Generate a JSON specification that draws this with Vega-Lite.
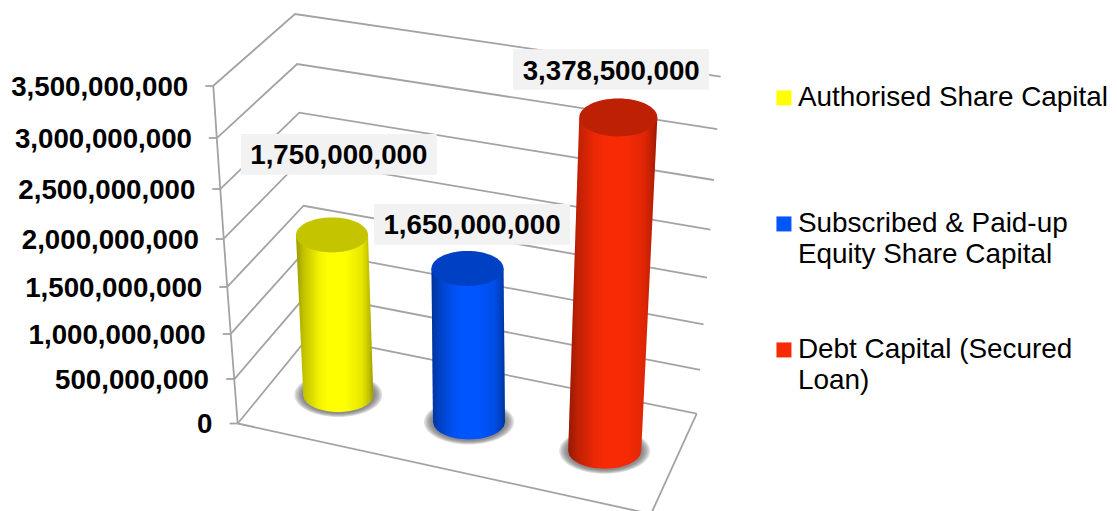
{
  "$schema": "https://vega.github.io/schema/vega-lite/v6.json",
  "width": 1117,
  "height": 511,
  "padding": 0,
  "autosize": "none",
  "background": "white",
  "config": {"view": {"stroke": null}, "font": "Liberation Sans"},
  "datasets": {
    "gridValues": [
      {"value": 0}, {"value": 500000000}, {"value": 1000000000}, {"value": 1500000000},
      {"value": 2000000000}, {"value": 2500000000}, {"value": 3000000000}, {"value": 3500000000}
    ],
    "capital": [
      {"category": "Authorised Share Capital", "value": 1750000000},
      {"category": "Subscribed & Paid-up Equity Share Capital", "value": 1650000000},
      {"category": "Debt Capital (Secured Loan)", "value": 3378500000}
    ]
  },
  "encoding": {
    "x": {"field": "sx", "type": "quantitative", "axis": null, "scale": {"domain": [0, 1117], "range": [0, 1117], "nice": false, "zero": false}}
  },
  "resolve": {"scale": {"y": "independent"}},
  "layer": [
    {
      "data": {"name": "gridValues"},
      "transform": [
        {"calculate": "datum.value / 3500000000", "as": "t"},
        {"calculate": "237.7 - 24.4 * datum.t", "as": "sx"},
        {"calculate": "datum.sx - 8", "as": "tickStart"}
      ],
      "encoding": {
        "y": {
          "field": "value", "type": "quantitative",
          "scale": {
            "domain": [0, 500000000, 1000000000, 1500000000, 2000000000, 2500000000, 3000000000, 3500000000],
            "range": [423.5, 379, 334, 287, 239, 189, 138, 86], "nice": false, "zero": false
          },
          "axis": {
            "title": null, "grid": false, "domain": false, "ticks": false, "tickSize": 0, "offset": -213.3,
            "values": [0, 500000000, 1000000000, 1500000000, 2000000000, 2500000000, 3000000000, 3500000000],
            "labelExpr": "format(datum.value, ',')",
            "labelFont": "Liberation Sans", "labelFontSize": 27.7, "labelFontWeight": "bold",
            "labelColor": "#000000", "labelAlign": "right", "labelBaseline": "middle", "labelOffset": 1,
            "labelOverlap": false, "labelFlush": false,
            "labelPadding": {
              "condition": [
                {"test": "datum.value == 0", "value": 1.3},
                {"test": "datum.value == 500000000", "value": 4.8},
                {"test": "datum.value == 1000000000", "value": 8.2},
                {"test": "datum.value == 1500000000", "value": 11.6},
                {"test": "datum.value == 2000000000", "value": 15},
                {"test": "datum.value == 2500000000", "value": 18.4},
                {"test": "datum.value == 3000000000", "value": 21.8}
              ],
              "value": 25.6
            }
          }
        }
      },
      "layer": [
        {"mark": {"type": "line", "stroke": "#a3a3a3", "strokeWidth": 1.8}},
        {
          "mark": {"type": "rule", "stroke": "#a3a3a3", "strokeWidth": 1.8},
          "encoding": {
            "x": {"field": "tickStart", "type": "quantitative"},
            "x2": {"field": "sx"}
          }
        }
      ]
    },
    {
      "encoding": {
        "y": {"field": "sy", "type": "quantitative", "axis": null, "scale": {"domain": [0, 511], "range": [0, 511], "nice": false, "zero": false}}
      },
      "layer": [
        {
          "data": {"name": "gridValues"},
          "transform": [
            {"calculate": "datum.value / 3500000000", "as": "t"},
            {"calculate": "['left', 'back', 'right']", "as": "corners"},
            {"flatten": ["corners"], "as": ["corner"]},
            {"calculate": "datum.corner == 'left' ? 237.7 - 24.4 * datum.t : datum.corner == 'back' ? 310 - 15 * datum.t : 696.7 + 24 * datum.t", "as": "sx"},
            {"calculate": "datum.corner == 'left' ? 423.5 - 304.2 * datum.t - 33.6 * datum.t * datum.t : datum.corner == 'back' ? 335 - 287 * datum.t - 34 * datum.t * datum.t : 413.7 - 302.6 * datum.t - 34.4 * datum.t * datum.t", "as": "sy"}
          ],
          "mark": {"type": "line", "stroke": "#a3a3a3", "strokeWidth": 1.8},
          "encoding": {"detail": {"field": "value"}}
        },
        {
          "data": {"values": [{"corner": "left"}, {"corner": "front"}, {"corner": "right"}]},
          "transform": [
            {"calculate": "datum.corner == 'left' ? 237.7 : datum.corner == 'front' ? 651 : 696.7", "as": "sx"},
            {"calculate": "datum.corner == 'left' ? 423.5 : datum.corner == 'front' ? 514 : 413.7", "as": "sy"}
          ],
          "mark": {"type": "line", "stroke": "#a3a3a3", "strokeWidth": 1.8}
        },
        {
          "data": {"name": "capital"},
          "transform": [
            {"calculate": "indexof(['Authorised Share Capital', 'Subscribed & Paid-up Equity Share Capital', 'Debt Capital (Secured Loan)'], datum.category)", "as": "i"},
            {"calculate": "[338.3, 469, 604.7][datum.i]", "as": "bx"},
            {"calculate": "[395, 422, 451][datum.i]", "as": "by"},
            {"calculate": "[332, 467.5, 618.3][datum.i]", "as": "tx"},
            {"calculate": "[9.1429e-8, 9.303e-8, 9.871e-8][datum.i]", "as": "k"},
            {"calculate": "[35, 36, 36.5][datum.i]", "as": "rb"},
            {"calculate": "[36, 36, 39][datum.i]", "as": "rt"},
            {"calculate": "datum.by - datum.value * datum.k", "as": "ty"},
            {"calculate": "4 * datum.rt * datum.rt", "as": "topSize"}
          ],
          "layer": [
            {
              "description": "Soft contact shadow built from stacked translucent ellipses",
              "transform": [
                {"calculate": "[9, 7.5, 6, 4.5, 3, 1.5]", "as": "spreads"},
                {"flatten": ["spreads"], "as": ["spread"]},
                {"calculate": "4 * (datum.rb + datum.spread) * (datum.rb + datum.spread)", "as": "shadowSize"}
              ],
              "mark": {"type": "point", "filled": true, "opacity": 0.2, "fill": "#666666", "strokeWidth": 0, "shape": "M-1,0 A1,0.5 0 1 0 1,0 A1,0.5 0 1 0 -1,0 Z"},
              "encoding": {
                "x": {"field": "bx", "type": "quantitative"},
                "y": {"field": "by", "type": "quantitative"},
                "size": {"field": "shadowSize", "type": "quantitative", "scale": null}
              }
            },
            {
              "description": "Cylinder body: flat top edge, straight sides, rounded elliptical base",
              "transform": [
                {"calculate": "[-1, 0, 0.25, 0.45, 0.6, 0.72, 0.82, 0.89, 0.94, 0.975, 0.995, 1]", "as": "stops"},
                {"flatten": ["stops"], "as": ["stop"]},
                {"calculate": "datum.stop < 0 ? datum.ty : datum.by + datum.stop * 0.485 * datum.rb", "as": "sy"},
                {"calculate": "datum.stop < 0 ? datum.tx : datum.bx", "as": "cx"},
                {"calculate": "datum.stop < 0 ? datum.rt : datum.rb * sqrt(1 - datum.stop * datum.stop)", "as": "r"},
                {"calculate": "datum.cx - datum.r", "as": "xl"},
                {"calculate": "datum.cx + datum.r", "as": "xr"}
              ],
              "layer": [
                {
                  "mark": {"type": "area", "orient": "horizontal", "opacity": 1},
                  "encoding": {
                    "x": {"field": "xl", "type": "quantitative", "stack": null},
                    "x2": {"field": "xr"},
                    "color": {
                      "field": "category", "type": "nominal",
                      "scale": {"domain": ["Authorised Share Capital", "Subscribed & Paid-up Equity Share Capital", "Debt Capital (Secured Loan)"], "range": ["#ffff00", "#0055ff", "#f82a05"]},
                      "legend": {
                        "title": null, "orient": "none", "legendX": 770, "legendY": 84, "direction": "vertical",
                        "symbolType": "square", "symbolSize": 225, "symbolStrokeWidth": 0, "symbolOpacity": 1,
                        "labelFont": "Liberation Sans", "labelFontSize": 27.9, "labelColor": "#000000", "labelLimit": 400,
                        "labelOffset": 0, "rowPadding": 65, "gridAlign": "all", "padding": 0,
                        "labelExpr": "datum.label == 'Subscribed & Paid-up Equity Share Capital' ? ['Subscribed & Paid-up', 'Equity Share Capital'] : datum.label == 'Debt Capital (Secured Loan)' ? ['Debt Capital (Secured', 'Loan)'] : datum.label",
                        "encode": {"labels": {"update": {"lineHeight": {"value": 31.5}}}}
                      }
                    }
                  }
                },
                {
                  "mark": {
                    "type": "area", "orient": "horizontal", "opacity": 1,
                    "fill": {"gradient": "linear", "x1": 0, "y1": 0, "x2": 1, "y2": 0,
                      "stops": [
                        {"offset": 0, "color": "rgba(0,0,0,0.4)"}, {"offset": 0.1, "color": "rgba(0,0,0,0.24)"},
                        {"offset": 0.3, "color": "rgba(0,0,0,0.05)"}, {"offset": 0.42, "color": "rgba(0,0,0,0)"},
                        {"offset": 0.64, "color": "rgba(0,0,0,0)"}, {"offset": 0.86, "color": "rgba(0,0,0,0.1)"},
                        {"offset": 0.95, "color": "rgba(0,0,0,0.26)"}, {"offset": 1, "color": "rgba(0,0,0,0.4)"}
                      ]}
                  },
                  "encoding": {
                    "x": {"field": "xl", "type": "quantitative", "stack": null},
                    "x2": {"field": "xr"},
                    "detail": {"field": "category"}
                  }
                }
              ]
            },
            {
              "mark": {"type": "point", "filled": true, "opacity": 1, "strokeWidth": 0, "shape": "M-1,0 A1,0.485 0 1 0 1,0 A1,0.485 0 1 0 -1,0 Z"},
              "encoding": {
                "x": {"field": "tx", "type": "quantitative"},
                "y": {"field": "ty", "type": "quantitative"},
                "size": {"field": "topSize", "type": "quantitative", "scale": null},
                "color": {"field": "category", "type": "nominal"}
              }
            },
            {
              "mark": {"type": "point", "filled": true, "opacity": 0.23, "strokeWidth": 0, "fill": "#000000", "shape": "M-1,0 A1,0.485 0 1 0 1,0 A1,0.485 0 1 0 -1,0 Z"},
              "encoding": {
                "x": {"field": "tx", "type": "quantitative"},
                "y": {"field": "ty", "type": "quantitative"},
                "size": {"field": "topSize", "type": "quantitative", "scale": null}
              }
            },
            {
              "transform": [
                {"calculate": "[338.8, 472, 611.2][datum.i]", "as": "lx"},
                {"calculate": "datum.ty - [80.6, 44.1, 48][datum.i]", "as": "ly"},
                {"calculate": "datum.lx - 98", "as": "x0"},
                {"calculate": "datum.lx + 98", "as": "x1"},
                {"calculate": "datum.ly - 20.3", "as": "y0"},
                {"calculate": "datum.ly + 20.3", "as": "y1"},
                {"calculate": "datum.ly + 2", "as": "textY"}
              ],
              "layer": [
                {
                  "mark": {"type": "rect", "fill": "#f2f2f2"},
                  "encoding": {
                    "x": {"field": "x0", "type": "quantitative"},
                    "x2": {"field": "x1"},
                    "y": {"field": "y0", "type": "quantitative"},
                    "y2": {"field": "y1"}
                  }
                },
                {
                  "mark": {"type": "text", "font": "Liberation Sans", "fontSize": 27.7, "fontWeight": "bold", "fill": "#000000", "align": "center", "baseline": "middle"},
                  "encoding": {
                    "x": {"field": "lx", "type": "quantitative"},
                    "y": {"field": "textY", "type": "quantitative"},
                    "text": {"field": "value", "type": "quantitative", "format": ","}
                  }
                }
              ]
            }
          ]
        }
      ]
    }
  ]
}
